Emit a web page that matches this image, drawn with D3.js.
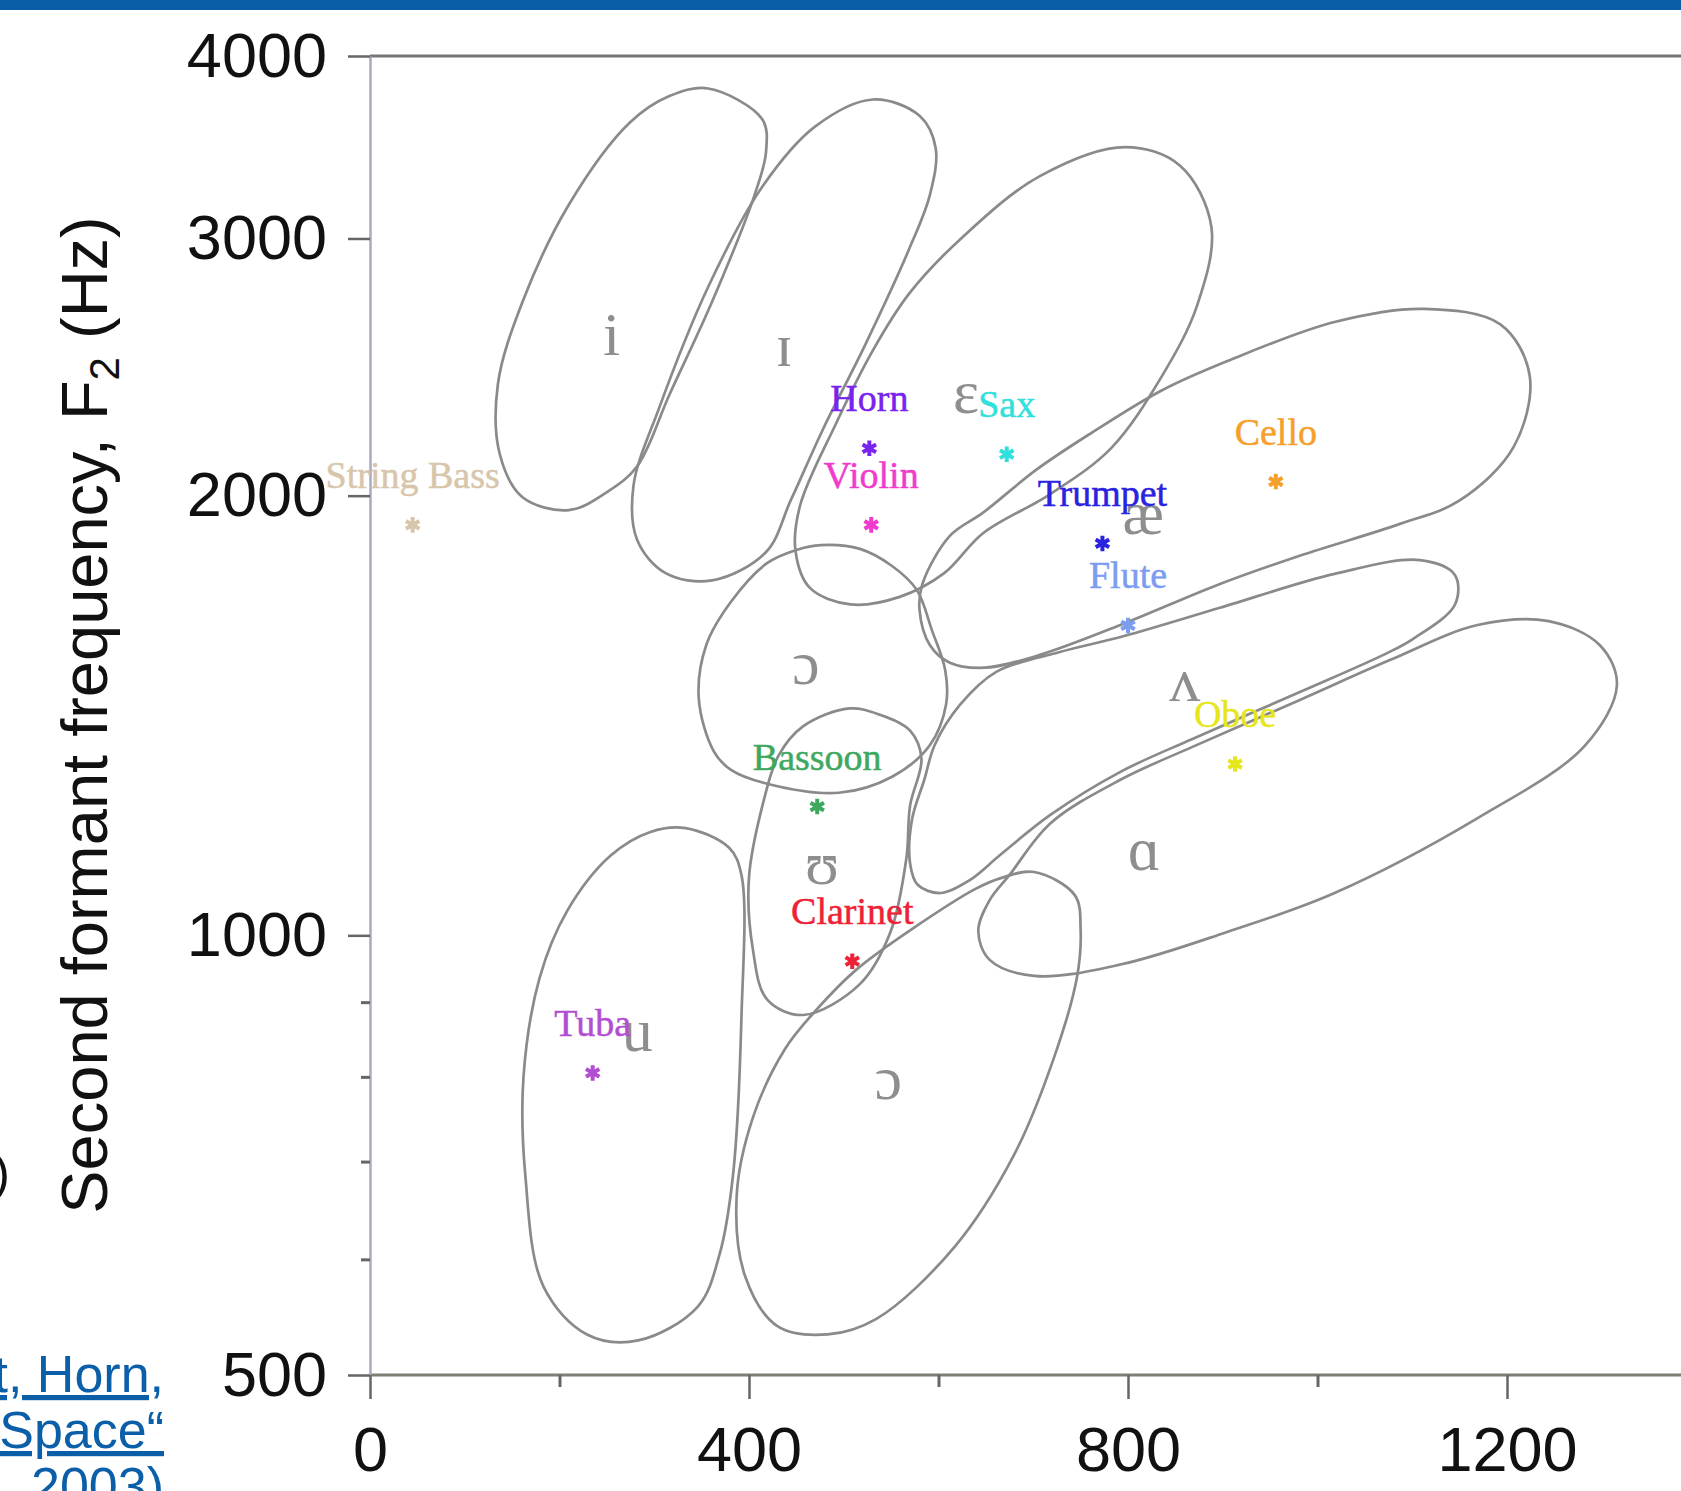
<!DOCTYPE html>
<html>
<head>
<meta charset="utf-8">
<script src="https://cdn.jsdelivr.net/npm/d3@7"></script>
<style>
  html, body { margin: 0; padding: 0; background: #fff; overflow: hidden; }
  svg { display: block; }
</style>
</head>
<body>
<svg id="chart" width="1681" height="1491"></svg>
<script>
// axis ticks (F1 in Hz along x, F2 in Hz along a log y axis)
const f1Ticks = [0, 400, 800, 1200];
const f1Minor = [200, 600, 1000];
const f2Ticks = [500, 1000, 2000, 3000, 4000];
const f2Minor = [600, 700, 800, 900];

// instrument formant points
const instruments = ["String Bass", "Horn", "Violin", "Sax", "Trumpet", "Cello", "Flute", "Oboe", "Bassoon", "Clarinet", "Tuba"];
const instF1 = [45, 527, 529, 672, 773, 956, 800, 913, 472, 509, 235];
const instF2 = [1910, 2155, 1910, 2135, 1855, 2045, 1630, 1310, 1225, 960, 805];
const instColors = ["#d8c6ac", "#7a22ee", "#f03ccc", "#2fe0dc", "#2a22e0", "#f5a02c", "#7c9cf0", "#e6e61c", "#3fa860", "#ee2234", "#b24ed2"];

// vowel symbols and where they sit
const vowelSymbols = ["i", "ɪ", "ɛ", "æ", "ɔ", "ʌ", "ɑ", "ʊ", "u", "ɔ"];
const vowelF1 = [255, 437, 629, 816, 460, 860, 817, 477, 282, 547];
const vowelF2 = [2495, 2455, 2280, 1883, 1487, 1446, 1109, 1084, 833, 772];

// outlines of the vowel regions as [F1, F2] pairs
const region_i  = [[357,3800],[414,3620],[418,3440],[406,3215],[361,2715],[316,2345],[282,2095],[252,2015],[210,1955],[161,1995],[137,2135],[135,2385],[161,2715],[210,3165],[274,3600],[316,3755]];
const region_ih = [[531,3735],[580,3640],[597,3460],[591,3215],[568,2940],[523,2540],[478,2220],[444,1985],[418,1830],[361,1750],[312,1770],[282,1865],[278,2030],[305,2295],[357,2780],[414,3255],[470,3580]];
const region_eh = [[797,3465],[855,3365],[888,3055],[873,2700],[835,2410],[782,2155],[718,2005],[647,1885],[606,1770],[559,1705],[507,1685],[464,1730],[449,1835],[454,1970],[491,2235],[530,2510],[569,2750],[625,3005],[707,3310]];
const region_ae = [[1112,2685],[1193,2620],[1224,2415],[1207,2160],[1150,1985],[1087,1913],[982,1820],[897,1740],[796,1635],[707,1556],[649,1525],[612,1537],[591,1580],[580,1670],[583,1740],[612,1877],[647,1947],[703,2083],[760,2205],[835,2360],[905,2473],[1018,2630]];
const region_er = [[450,1836],[476,1850],[517,1839],[551,1790],[577,1724],[593,1618],[607,1520],[608,1439],[591,1350],[551,1284],[495,1252],[419,1270],[381,1298],[363,1336],[347,1452],[355,1581],[381,1692],[419,1798]];
const region_uh = [[570,1120],[572,1200],[585,1278],[596,1350],[623,1439],[661,1515],[728,1563],[796,1603],[897,1676],[1018,1768],[1108,1807],[1145,1765],[1145,1684],[1101,1596],[1074,1561],[982,1468],[868,1363],[792,1294],[718,1209],[665,1135],[633,1091],[602,1069],[578,1083]];
const region_aa = [[642,1007],[654,1057],[675,1100],[718,1193],[792,1278],[868,1346],[982,1450],[1077,1544],[1169,1631],[1244,1641],[1298,1580],[1316,1484],[1282,1348],[1169,1203],[1018,1069],[904,1005],[792,955],[701,938],[654,962]];
const region_uu = [[506,1430],[538,1416],[570,1381],[582,1321],[570,1227],[566,1128],[549,1004],[517,926],[457,882],[419,904],[404,979],[400,1096],[416,1240],[431,1327],[457,1390]];
const region_u  = [[333,1184],[379,1148],[392,1100],[392,878],[383,684],[369,605],[346,557],[283,528],[229,533],[183,575],[164,684],[162,800],[179,935],[208,1039],[254,1134],[296,1177]];
const region_oo = [[701,1105],[744,1065],[750,1008],[746,935],[722,825],[680,708],[617,612],[534,546],[483,533],[430,540],[396,584],[387,663],[404,750],[438,836],[471,889],[513,947],[575,1013],[639,1076],[665,1094]];

const regions = [region_i, region_ih, region_eh, region_ae, region_er, region_uh, region_aa, region_uu, region_u, region_oo];

// cut-off slide text around the figure
const citeLines = ["t, Horn,", "Space\u201C", ", 2003)"];

var W = 1681, H = 1491;
var svg = d3.select("#chart");
var sans = "'Liberation Sans', Arial, Helvetica, sans-serif";
var serif = "'Liberation Serif', 'Times New Roman', 'DejaVu Serif', serif";

var x = d3.scaleLinear().domain([0, 1200]).range([370, 1507]);
var y = d3.scaleLog().domain([500, 4000]).range([1375, 56]);

// slide header bar
svg.append("rect").attr("x", 0).attr("y", 0).attr("width", W).attr("height", 10).attr("fill", "#0a5ea8");

// frame top + bottom
svg.append("line")
    .attr("x1", x(0)).attr("x2", W).attr("y1", y(4000)).attr("y2", y(4000))
    .attr("stroke", "#767676").attr("stroke-width", 3);
svg.append("line")
    .attr("x1", x(0)).attr("x2", W).attr("y1", y(500)).attr("y2", y(500))
    .attr("stroke", "#7e7e74").attr("stroke-width", 3);

// y axis
var yAxis = svg.append("g")
    .attr("transform", "translate(" + x(0) + ",0)")
    .call(d3.axisLeft(y).tickValues(f2Ticks).tickFormat(d3.format("d"))
        .tickSize(22).tickSizeOuter(0).tickPadding(21));
yAxis.select(".domain").attr("stroke", "#a9a9c2").attr("stroke-width", 2.5);
yAxis.selectAll(".tick line").attr("stroke", "#666").attr("stroke-width", 2.5);
yAxis.selectAll(".tick text")
    .attr("font-family", sans).attr("font-size", 63).attr("fill", "#111");

svg.append("g")
    .attr("transform", "translate(" + x(0) + ",0)")
    .call(d3.axisLeft(y).tickValues(f2Minor).tickFormat("").tickSize(9).tickSizeOuter(0))
    .call(g => g.select(".domain").remove())
    .selectAll(".tick line").attr("stroke", "#666").attr("stroke-width", 3);

// x axis
var xAxis = svg.append("g")
    .attr("transform", "translate(0," + y(500) + ")")
    .call(d3.axisBottom(x).tickValues(f1Ticks).tickFormat(d3.format("d"))
        .tickSize(24).tickSizeOuter(0).tickPadding(27));
xAxis.select(".domain").remove();
xAxis.selectAll(".tick line").attr("stroke", "#666").attr("stroke-width", 2.5);
xAxis.selectAll(".tick text")
    .attr("font-family", sans).attr("font-size", 63).attr("fill", "#111");

svg.append("g")
    .attr("transform", "translate(0," + y(500) + ")")
    .call(d3.axisBottom(x).tickValues(f1Minor).tickFormat("").tickSize(12).tickSizeOuter(0))
    .call(g => g.select(".domain").remove())
    .selectAll(".tick line").attr("stroke", "#666").attr("stroke-width", 3);

// y axis title with subscript
var title = svg.append("text")
    .attr("transform", "translate(107,715) rotate(-90)")
    .attr("text-anchor", "middle")
    .attr("font-family", sans).attr("font-size", 65).attr("fill", "#111");
title.append("tspan").text("Second formant frequency, F");
title.append("tspan").attr("font-size", 42).attr("dy", 12).text("2");
title.append("tspan").attr("dy", -12).text(" (Hz)");

// vowel regions
var outline = d3.line()
    .x(d => x(d[0]))
    .y(d => y(d[1]))
    .curve(d3.curveCatmullRomClosed.alpha(0.5));

svg.append("g").selectAll("path")
    .data(regions)
    .join("path")
    .attr("d", outline)
    .attr("fill", "none")
    .attr("stroke", "#8a8a8a")
    .attr("stroke-width", 2.7);

// vowel symbols
svg.append("g").selectAll("text")
    .data(vowelSymbols)
    .join("text")
    .attr("x", (d, i) => x(vowelF1[i]))
    .attr("y", (d, i) => y(vowelF2[i]))
    .attr("text-anchor", "middle")
    .attr("font-family", serif).attr("font-size", 62)
    .attr("fill", "#8e8e8e")
    .text(d => d);

// instrument markers + names
var inst = svg.append("g").selectAll("g")
    .data(instruments)
    .join("g")
    .attr("transform", (d, i) => "translate(" + x(instF1[i]) + "," + y(instF2[i]) + ")");

inst.append("path")
    .attr("d", d3.symbol(d3.symbolAsterisk, 170))
    .attr("fill", "none")
    .attr("stroke", (d, i) => instColors[i])
    .attr("stroke-width", 4);

inst.append("text")
    .attr("y", -37)
    .attr("text-anchor", "middle")
    .attr("font-family", serif).attr("font-size", 38)
    .attr("fill", (d, i) => instColors[i])
    .attr("stroke", (d, i) => instColors[i]).attr("stroke-width", 0.5)
    .text(d => d);

// bits of slide text cut by the crop
svg.append("text")
    .attr("x", 10).attr("y", 1190)
    .attr("text-anchor", "end")
    .attr("font-family", sans).attr("font-size", 50).attr("fill", "#111")
    .text(")");

svg.append("g").selectAll("text")
    .data(citeLines)
    .join("text")
    .attr("x", 164)
    .attr("y", (d, i) => 1392 + i * 56)
    .attr("text-anchor", "end")
    .attr("font-family", sans).attr("font-size", 52)
    .attr("fill", "#0b5ea8")
    .style("text-decoration", "underline")
    .text(d => d);
</script>
</body>
</html>
